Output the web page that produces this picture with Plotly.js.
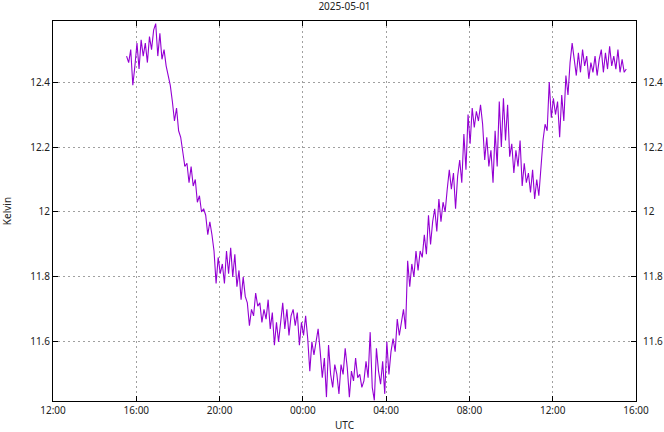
<!DOCTYPE html>
<html>
<head>
<meta charset="utf-8">
<script src="https://cdn.plot.ly/plotly-3.0.1.min.js"></script>
<style>html,body{margin:0;padding:0;background:#fff;}#chart{width:664px;height:432px;}</style>
</head>
<body>
<div id="chart"></div>
<script>
// Chart data
const chartTitle = "2025-05-01";
const xLabel = "UTC";
const yLabel = "Kelvin";
const startTime = "2025-05-01T15:32:00";
const stepMinutes = 6;
const kelvin = [
  12.48,12.46,12.50,12.39,12.45,12.52,12.44,12.53,12.48,12.52,
  12.46,12.54,12.50,12.56,12.58,12.48,12.55,12.47,12.50,12.45,
  12.42,12.39,12.34,12.28,12.32,12.25,12.23,12.19,12.14,12.15,
  12.09,12.14,12.08,12.10,12.03,12.05,12.00,12.01,11.99,11.93,
  11.97,11.93,11.88,11.78,11.86,11.81,11.84,11.78,11.88,11.81,
  11.89,11.80,11.87,11.77,11.82,11.73,11.80,11.74,11.72,11.65,
  11.70,11.68,11.75,11.71,11.72,11.66,11.70,11.67,11.73,11.64,
  11.69,11.59,11.66,11.60,11.66,11.72,11.64,11.70,11.62,11.68,
  11.70,11.65,11.69,11.59,11.66,11.62,11.68,11.61,11.51,11.60,
  11.56,11.60,11.64,11.57,11.49,11.55,11.43,11.59,11.50,11.46,
  11.53,11.50,11.44,11.53,11.50,11.58,11.52,11.43,11.51,11.48,
  11.55,11.49,11.50,11.46,11.48,11.54,11.49,11.63,11.46,11.42,
  11.58,11.51,11.47,11.54,11.44,11.60,11.50,11.57,11.61,11.57,
  11.67,11.62,11.66,11.70,11.64,11.85,11.77,11.84,11.80,11.88,
  11.82,11.88,11.86,11.93,11.87,11.99,11.90,11.97,12.01,11.94,
  12.04,11.97,12.03,12.00,12.07,12.13,12.07,12.12,12.01,12.11,
  12.16,12.09,12.24,12.13,12.30,12.21,12.32,12.26,12.31,12.28,
  12.33,12.27,12.16,12.23,12.14,12.19,12.09,12.25,12.14,12.34,
  12.20,12.35,12.22,12.33,12.17,12.21,12.12,12.19,12.14,12.22,
  12.08,12.15,12.09,12.12,12.06,12.13,12.04,12.10,12.05,12.15,
  12.22,12.27,12.25,12.40,12.29,12.35,12.30,12.34,12.23,12.36,
  12.28,12.42,12.36,12.46,12.52,12.47,12.42,12.49,12.43,12.50,
  12.45,12.48,12.41,12.46,12.43,12.48,12.42,12.47,12.50,12.43,
  12.49,12.44,12.51,12.45,12.48,12.44,12.50,12.43,12.47,12.43,
  12.44
];
const xTickVals = ["2025-05-01 12:00","2025-05-01 16:00","2025-05-01 20:00","2025-05-02 00:00","2025-05-02 04:00","2025-05-02 08:00","2025-05-02 12:00","2025-05-02 16:00"];
const xTickText = ["12:00","16:00","20:00","00:00","04:00","08:00","12:00","16:00"];
const yTickVals = [11.6, 11.8, 12, 12.2, 12.4];
const yTickText = ["11.6","11.8","12","12.2","12.4"];
const xRange = ["2025-05-01 12:00","2025-05-02 16:00"];
const yRange = [11.418, 12.588];

// Build timestamps for regularly sampled readings
function pad(n){return (n<10?"0":"")+n;}
const t0 = new Date(startTime + "Z").getTime();
const times = kelvin.map((v,i)=>{
  const d = new Date(t0 + i*stepMinutes*60000);
  return d.getUTCFullYear()+"-"+pad(d.getUTCMonth()+1)+"-"+pad(d.getUTCDate())+" "+pad(d.getUTCHours())+":"+pad(d.getUTCMinutes());
});

const fam = "Noto Sans, Open Sans, sans-serif";
const txt = {family: fam, size: 10, color: "#222"};
const gridColor = "#a0a0a0";

const traces = [
  {x: times, y: kelvin, type: "scatter", mode: "lines",
   line: {color: "#9400d3", width: 1.1}, hoverinfo: "skip", showlegend: false},
  {x: [], y: [], yaxis: "y2", type: "scatter", mode: "lines", showlegend: false, hoverinfo: "skip"}
];

const layout = {
  width: 664, height: 432,
  margin: {l: 53, r: 28, t: 21, b: 31, pad: 0},
  paper_bgcolor: "#fff", plot_bgcolor: "#fff",
  font: txt,
  showlegend: false,
  title: {text: chartTitle, font: txt,
          x: 0.5, xref: "paper", y: 1, yref: "container", yanchor: "top", pad: {t: 3}},
  xaxis: {
    type: "date", range: xRange,
    tickmode: "array", tickvals: xTickVals, ticktext: xTickText,
    ticks: "inside", ticklen: 5, tickcolor: "#000", tickwidth: 1,
    showline: true, linecolor: "#000", linewidth: 1, mirror: "ticks",
    showgrid: true, gridcolor: gridColor, griddash: "2px,3px", gridwidth: 1,
    zeroline: false,
    title: {text: xLabel, font: txt, standoff: 13},
    tickfont: txt
  },
  yaxis: {
    range: yRange,
    tickmode: "array", tickvals: yTickVals, ticktext: yTickText,
    ticks: "inside", ticklen: 5, tickcolor: "#000", tickwidth: 1,
    showline: true, linecolor: "#000", linewidth: 1, mirror: "ticks",
    showgrid: true, gridcolor: gridColor, griddash: "2px,3px", gridwidth: 1,
    zeroline: false,
    title: {text: yLabel, font: txt, standoff: 20},
    tickfont: txt
  },
  yaxis2: {
    range: yRange, overlaying: "y", side: "right",
    tickmode: "array", tickvals: yTickVals, ticktext: yTickText,
    ticks: "", showline: false, showgrid: false, zeroline: false,
    ticklabelstandoff: 6,
    tickfont: txt
  }
};

Plotly.newPlot("chart", traces, layout, {displayModeBar: false, staticPlot: true});
</script>
</body>
</html>
